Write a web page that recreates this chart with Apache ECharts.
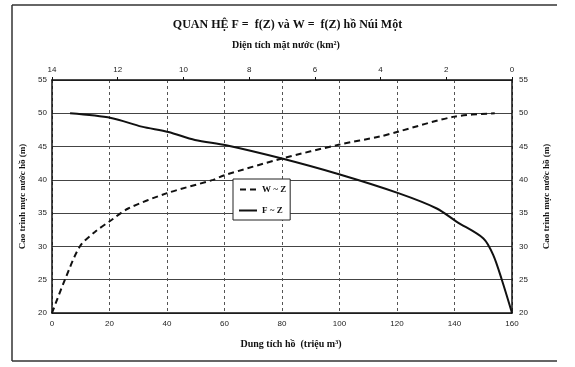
<!DOCTYPE html>
<html>
<head>
<meta charset="utf-8">
<script src="https://cdn.jsdelivr.net/npm/echarts@6/dist/echarts.min.js"></script>
<style>html,body{margin:0;padding:0;background:#fff;}#c{width:575px;height:367px;}</style>
</head>
<body>
<div id="c"></div>
<script>
var titleText = 'QUAN HỆ F =  f(Z) và W =  f(Z) hồ Núi Một';
var topAxisName = 'Diện tích mặt nước (km²)';
var bottomAxisName = 'Dung tích hồ  (triệu m³)';
var yAxisName = 'Cao trình mực nước hồ (m)';
var seriesNames = ['W ~ Z', 'F ~ Z'];
// W ~ Z : [volume (million m3), elevation (m)]
var volumeW = [0, 4.5, 9.7, 15, 20.8, 26.5, 40, 56, 60, 80, 100, 114, 120, 140, 154];
var elevW   = [20, 25, 30, 32.2, 34, 35.7, 38, 40, 40.7, 43.2, 45.3, 46.5, 47.2, 49.5, 50];
// F ~ Z : [surface area (km2), elevation (m)]
var areaF = [13.45, 12.2, 11.27, 10.46, 9.65, 8.7, 7.0, 5.24, 3.46, 2.29, 1.68, 0.87, 0.57, 0.31, 0];
var elevF = [50, 49.3, 48, 47.2, 46, 45.2, 43.2, 40.8, 38, 35.7, 33.7, 31.2, 28.7, 25, 20];

function pairs(xs, ys){ return xs.map(function(x,i){ return [x, ys[i]]; }); }

var serif = '"Liberation Serif", "DejaVu Serif", serif';
var sans = '"Liberation Sans", Arial, sans-serif';
var chart = echarts.init(document.getElementById('c'));
chart.setOption({
  animation: false,
  backgroundColor: '#fff',
  title: {
    text: titleText, left: 'center', top: 14,
    textStyle: {fontFamily: serif, fontWeight: 'bold', fontSize: 12, color: '#111'}
  },
  legend: {
    orient: 'vertical', left: 233, top: 179,
    backgroundColor: '#fff', borderColor: '#222', borderWidth: 1, borderRadius: 0,
    padding: [6, 4, 5, 6], itemGap: 12, itemWidth: 18, itemHeight: 2,
    textStyle: {fontFamily: serif, fontWeight: 'bold', fontSize: 9, color: '#111'},
    data: [
      {name: seriesNames[0], icon: 'path://M0,0h6v2h-6z M10,0h6v2h-6z', itemStyle: {color: '#111'}},
      {name: seriesNames[1], icon: 'path://M0,0h18v2h-18z', itemStyle: {color: '#111'}}
    ]
  },
  grid: {left: 52, right: 63, top: 80, bottom: 54, containLabel: false},
  xAxis: [{
    type: 'value', position: 'bottom', min: 0, max: 160, interval: 20,
    name: bottomAxisName, nameLocation: 'middle', nameGap: 26,
    nameTextStyle: {fontFamily: serif, fontWeight: 'bold', fontSize: 10, color: '#111', padding: [0, 0, 0, 18]},
    axisLine: {lineStyle: {color: '#111', width: 1.5}},
    axisTick: {show: false},
    axisLabel: {fontFamily: sans, fontSize: 8, color: '#222', margin: 7},
    splitLine: {show: true, lineStyle: {color: '#555', type: [3, 3], width: 1}}
  }, {
    type: 'value', position: 'top', min: 0, max: 14, interval: 2, inverse: true,
    name: topAxisName, nameLocation: 'middle', nameGap: 30,
    nameTextStyle: {fontFamily: serif, fontWeight: 'bold', fontSize: 10, color: '#111', padding: [0, 0, 0, 8]},
    axisLine: {lineStyle: {color: '#111', width: 1.5}},
    axisTick: {show: true, inside: false, length: 3, lineStyle: {color: '#111'}},
    axisLabel: {fontFamily: sans, fontSize: 8, color: '#222', margin: 6},
    splitLine: {show: false}
  }],
  yAxis: [{
    type: 'value', position: 'left', min: 20, max: 55, interval: 5,
    name: yAxisName, nameLocation: 'middle', nameGap: 15, nameRotate: 90,
    nameTextStyle: {fontFamily: serif, fontWeight: 'bold', fontSize: 9, color: '#111', padding: [0, 0, 0, 0]},
    axisLine: {show: true, lineStyle: {color: '#111', width: 1.5}},
    axisTick: {show: false},
    axisLabel: {fontFamily: sans, fontSize: 8, color: '#222', margin: 5},
    splitLine: {show: true, lineStyle: {color: '#444', width: 1}}
  }, {
    type: 'value', position: 'right', min: 20, max: 55, interval: 5,
    name: yAxisName, nameLocation: 'middle', nameGap: 30, nameRotate: 90,
    nameTextStyle: {fontFamily: serif, fontWeight: 'bold', fontSize: 9, color: '#111', padding: [0, 0, 30, 0]},
    axisLine: {show: true, lineStyle: {color: '#111', width: 1.5}},
    axisTick: {show: false},
    axisLabel: {fontFamily: sans, fontSize: 8, color: '#222', margin: 7},
    splitLine: {show: false}
  }],
  series: [{
    name: seriesNames[0], type: 'line', xAxisIndex: 0, yAxisIndex: 0,
    smooth: 0.3, showSymbol: false, symbol: 'none',
    lineStyle: {color: '#111', width: 2, type: [6, 4]},
    itemStyle: {color: '#111'},
    data: pairs(volumeW, elevW)
  }, {
    name: seriesNames[1], type: 'line', xAxisIndex: 1, yAxisIndex: 0,
    smooth: 0.3, showSymbol: false, symbol: 'none',
    lineStyle: {color: '#111', width: 2},
    itemStyle: {color: '#111'},
    data: pairs(areaF, elevF)
  }],
  graphic: [{
    type: 'line', silent: true, shape: {x1: 12, y1: 5, x2: 557, y2: 5},
    style: {stroke: '#333', lineWidth: 1.5}
  }, {
    type: 'line', silent: true, shape: {x1: 12, y1: 5, x2: 12, y2: 361},
    style: {stroke: '#333', lineWidth: 1.5}
  }, {
    type: 'line', silent: true, shape: {x1: 12, y1: 361, x2: 557, y2: 361},
    style: {stroke: '#333', lineWidth: 1.5}
  }]
});
</script>
</body>
</html>
